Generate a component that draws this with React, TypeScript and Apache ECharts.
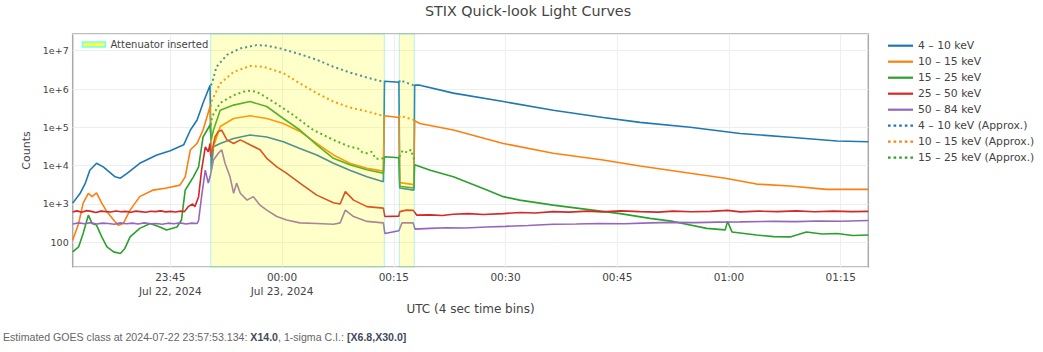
import React, { useEffect, useRef } from 'react';
import * as echarts from 'echarts';

// Time is expressed in minutes relative to 2024-07-23 00:00 UTC
const chartTitle = 'STIX Quick-look Light Curves';
const xAxisTitle = 'UTC (4 sec time bins)';
const yAxisTitle = 'Counts';
const X_MIN = -28.1;
const X_MAX = 78.7;
const Y_MIN = 22.6;
const Y_MAX = 2.73e7;

const xTickValues = [-15, 0, 15, 30, 45, 60, 75];
const xTickLabels = ['23:45\nJul 22, 2024', '00:00\nJul 23, 2024', '00:15', '00:30', '00:45', '01:00', '01:15'];
const yTickExponents = [2, 3, 4, 5, 6, 7];
const yTickLabels = ['100', '1e+3', '1e+4', '1e+5', '1e+6', '1e+7'];

const attenuatorLabel = 'Attenuator inserted';
const attenuatorPeriods = [
  [-9.57, 13.73],
  [15.75, 17.75],
];

const seriesNames = [
  '4 – 10 keV',
  '10 – 15 keV',
  '15 – 25 keV',
  '25 – 50 keV',
  '50 – 84 keV',
  '4 – 10 keV (Approx.)',
  '10 – 15 keV (Approx.)',
  '15 – 25 keV (Approx.)',
];
const seriesColors = ['#1f77b4', '#ff7f0e', '#2ca02c', '#d62728', '#9467bd', '#1f77b4', '#ff7f0e', '#2ca02c'];

const band4to10 = [
  [-28.1, 1.05e3], [-27.1, 1.9e3], [-26.4, 3.5e3], [-25.8, 7.6e3], [-24.9, 1.15e4], [-24.0, 9.3e3],
  [-22.4, 5.1e3], [-21.7, 4.7e3], [-20.8, 6.3e3], [-19.1, 1.15e4], [-16.8, 1.9e4], [-15.0, 2.45e4],
  [-13.2, 3.5e4], [-12.3, 8.5e4], [-11.4, 1.55e5], [-10.6, 4.3e5], [-9.66, 1.26e6], [-9.5, 7.6e3],
  [-9.2, 3.1e4], [-8.3, 3.8e4], [-6.5, 5.1e4], [-4.3, 6.3e4], [-2.05, 5.6e4], [0.17, 4.2e4],
  [2.4, 2.8e4], [4.66, 1.9e4], [6.9, 1.15e4], [9.1, 7.6e3], [11.4, 5.1e3], [13.6, 3.8e3],
  [13.75, 1.6e6], [15.7, 1.5e6], [15.8, 2.6e3], [17.7, 2.3e3], [17.8, 1.26e6], [18.5, 1.26e6],
  [23.0, 7.8e5], [29.7, 4.7e5], [36.4, 2.8e5], [43.1, 1.8e5], [48.05, 1.35e5], [54.8, 1.0e5],
  [61.5, 6.9e4], [68.2, 5.5e4], [74.5, 4.4e4], [78.7, 4.2e4],
];

const band10to15 = [
  [-28.1, 115], [-27.3, 310], [-26.7, 1.05e3], [-26.0, 1.9e3], [-25.5, 1.55e3], [-24.9, 1.95e3],
  [-24.2, 1.05e3], [-23.5, 630], [-22.6, 380], [-22.0, 280], [-21.3, 310], [-20.4, 690],
  [-19.1, 1.55e3], [-17.3, 2.3e3], [-15.5, 2.6e3], [-13.7, 3.1e3], [-13.0, 5.1e3], [-12.3, 2.6e4],
  [-11.4, 3.8e4], [-10.6, 8.5e4], [-9.66, 3.5e5], [-9.5, 2.1e4], [-8.3, 1.05e5], [-6.5, 1.7e5],
  [-4.3, 2.0e5], [-2.05, 1.7e5], [0.17, 1.26e5], [2.4, 7.8e4], [4.66, 3.8e4], [6.9, 1.9e4],
  [9.1, 1.15e4], [11.4, 8.5e3], [13.6, 7.2e3], [13.75, 2.0e5], [15.7, 1.8e5], [15.8, 3.6e3],
  [17.7, 3.2e3], [17.8, 1.5e5], [18.5, 1.26e5], [23.0, 8.5e4], [29.7, 3.8e4], [36.4, 2.1e4],
  [43.1, 1.4e4], [48.05, 9.8e3], [54.8, 6.3e3], [59.5, 4.7e3], [63.7, 3.3e3], [68.2, 2.95e3],
  [73.1, 2.4e3], [78.7, 2.4e3],
];

const band15to25 = [
  [-28.1, 56], [-27.3, 76], [-26.7, 170], [-26.0, 510], [-25.5, 310], [-24.9, 280], [-24.2, 138],
  [-23.5, 76], [-22.6, 56], [-21.7, 51], [-21.1, 69], [-20.4, 138], [-19.1, 230], [-17.7, 310],
  [-16.4, 250], [-15.5, 210], [-14.1, 250], [-13.5, 380], [-13.0, 2.3e3], [-12.3, 3.8e3],
  [-11.9, 5.1e3], [-11.2, 9.3e3], [-10.6, 5.6e4], [-9.66, 1.15e5], [-9.5, 4.7e4], [-9.2, 8.5e4],
  [-8.3, 2.8e5], [-6.5, 3.8e5], [-4.3, 4.7e5], [-2.05, 3.5e5], [0.17, 1.7e5], [2.4, 8.5e4],
  [4.66, 3.5e4], [6.9, 1.55e4], [9.1, 1.05e4], [11.4, 7.8e3], [13.6, 6.3e3], [13.75, 1.7e4],
  [15.7, 1.6e4], [15.8, 2.9e3], [17.7, 2.6e3], [17.8, 1.05e4], [19.9, 7.6e3], [23.0, 5.1e3],
  [27.5, 2.3e3], [29.7, 1.55e3], [31.9, 1.26e3], [36.4, 930], [40.9, 720], [45.4, 560],
  [49.4, 420], [52.5, 350], [57.0, 230], [59.5, 210], [59.8, 350], [60.4, 186], [63.7, 155],
  [66.0, 140], [68.2, 138], [70.4, 186], [72.5, 165], [74.5, 170], [76.6, 150], [78.7, 155],
];

const band25to50 = [
  [-28.1, 620], [-27.5, 660], [-26.9, 610], [-26.2, 670], [-25.6, 640], [-25.0, 600], [-24.3, 650],
  [-23.6, 630], [-23.0, 615], [-22.3, 655], [-21.6, 625], [-21.0, 640], [-20.3, 610], [-19.6, 650],
  [-19.0, 630], [-18.3, 605], [-17.6, 645], [-17.0, 630], [-16.3, 660], [-15.6, 620], [-15.0, 640],
  [-14.3, 615], [-13.6, 650], [-13.1, 630], [-12.6, 850], [-12.0, 1.0e3], [-11.7, 850],
  [-11.2, 1.55e3], [-10.8, 7.6e3], [-10.3, 3.1e4], [-9.9, 2.3e4], [-9.66, 3.8e4], [-9.57, 1.7e4],
  [-9.0, 5.6e4], [-8.55, 7.8e4], [-8.1, 8.5e4], [-7.4, 4.7e4], [-6.5, 3.8e4], [-5.6, 4.7e4],
  [-4.3, 3.5e4], [-2.95, 2.6e4], [-2.05, 1.55e4], [-0.7, 9.3e3], [0.63, 6.3e3], [2.4, 3.5e3],
  [4.66, 1.7e3], [6.9, 1.07e3], [7.8, 1.0e3], [8.5, 2.1e3], [9.6, 1.26e3], [11.4, 850],
  [13.6, 780], [13.8, 470], [15.7, 480], [15.8, 630], [16.7, 690], [17.6, 680], [18.1, 510],
  [19.9, 520], [21.5, 500], [23.0, 540], [25.0, 560], [27.0, 530], [29.7, 560], [32.0, 600],
  [34.0, 580], [36.4, 630], [38.5, 610], [41.0, 650], [43.0, 620], [45.5, 660], [48.0, 630],
  [50.5, 610], [52.5, 650], [55.0, 625], [57.5, 640], [59.8, 680], [61.5, 620], [64.0, 650],
  [66.5, 630], [69.0, 660], [71.5, 625], [74.0, 650], [76.5, 630], [78.7, 640],
];

const band50to84 = [
  [-28.1, 300], [-27.3, 320], [-26.5, 305], [-25.7, 325], [-24.9, 300], [-24.1, 315], [-23.3, 310],
  [-22.5, 295], [-21.7, 320], [-20.9, 305], [-20.1, 315], [-19.3, 300], [-18.5, 320], [-17.7, 305],
  [-16.9, 310], [-16.1, 295], [-15.3, 315], [-14.5, 305], [-13.7, 320], [-12.9, 300], [-12.1, 315],
  [-11.4, 310], [-11.2, 370], [-10.8, 1.55e3], [-10.3, 7.6e3], [-9.9, 3.5e3], [-9.66, 5.1e3],
  [-9.2, 1.4e4], [-8.55, 2.1e4], [-8.1, 2.6e4], [-7.65, 1.15e4], [-6.98, 5.1e3], [-6.5, 1.9e3],
  [-6.1, 3.5e3], [-5.6, 1.9e3], [-4.7, 1.26e3], [-3.85, 1.55e3], [-2.95, 930], [-2.05, 690],
  [-0.7, 470], [0.63, 380], [2.4, 320], [4.66, 310], [6.9, 295], [7.8, 320], [8.5, 690],
  [9.6, 470], [11.4, 350], [13.6, 320], [13.8, 170], [15.7, 200], [16.1, 320], [17.6, 320],
  [17.85, 220], [19.9, 230], [22.0, 240], [24.5, 235], [27.5, 250], [30.0, 260], [33.0, 275],
  [36.4, 295], [39.5, 300], [42.5, 310], [46.0, 305], [49.4, 320], [52.5, 330], [55.5, 325],
  [58.5, 335], [61.5, 340], [65.9, 350], [69.0, 345], [72.0, 360], [75.0, 355], [78.7, 370],
];

const band4to10Approx = [
  [-9.57, 1.26e6], [-9.4, 1.4e6], [-8.8, 3.8e6], [-7.4, 7.8e6], [-5.6, 1.15e7], [-3.4, 1.4e7],
  [-2.05, 1.35e7], [-0.27, 1.15e7], [2.4, 8.1e6], [4.66, 5.8e6], [6.9, 3.8e6], [9.1, 2.7e6],
  [11.4, 2.0e6], [13.6, 1.55e6], [13.73, 1.6e6], [14.7, null], [15.75, 1.5e6], [15.8, 1.7e6],
  [17.6, 1.26e6], [17.75, 1.26e6],
];

const band10to15Approx = [
  [-9.57, 3.5e5], [-9.4, 5.1e5], [-8.3, 1.4e6], [-6.5, 2.8e6], [-4.3, 4.0e6], [-2.5, 3.8e6],
  [0.17, 2.6e6], [2.4, 1.4e6], [4.66, 7.8e5], [6.9, 4.7e5], [9.1, 3.3e5], [11.4, 2.6e5],
  [13.6, 2.0e5], [13.73, 2.0e5], [14.7, null], [15.75, 1.8e5], [15.8, 2.0e5], [17.6, 1.6e5],
  [17.75, 1.5e5],
];

const band15to25Approx = [
  [-9.57, 1.15e5], [-9.4, 1.9e5], [-8.3, 4.3e5], [-6.5, 6.9e5], [-4.7, 9.1e5], [-3.4, 8.5e5],
  [-1.2, 4.7e5], [1.5, 2.1e5], [4.2, 8.5e4], [6.9, 4.7e4], [9.1, 3.1e4], [10.2, 2.8e4],
  [10.8, 2.2e4], [11.4, 2.1e4], [12.0, 2.3e4], [12.6, 1.5e4], [13.6, 1.55e4], [13.73, 1.7e4],
  [14.7, null], [15.75, 1.7e4], [16.2, 2.5e4], [16.8, 2.2e4], [17.3, 2.6e4], [17.75, 1.4e4],
];

const seriesData = [
  band4to10, band10to15, band15to25, band25to50, band50to84,
  band4to10Approx, band10to15Approx, band15to25Approx,
];

const goesPrefix = 'Estimated GOES class at 2024-07-22 23:57:53.134: ';
const goesClass = 'X14.0';
const goesMid = ', 1-sigma C.I.: ';
const goesInterval = '[X6.8,X30.0]';

const FONT = '"DejaVu Sans", Verdana, sans-serif';
const TEXT = '#444';

const SOLID_ICON = 'path://M0,0H25V2.2H0Z';
const DOT_ICON =
  'path://M0,0h2.6v2.2h-2.6z M5.6,0h2.6v2.2h-2.6z M11.2,0h2.6v2.2h-2.6z M16.8,0h2.6v2.2h-2.6z M22.4,0h2.6v2.2h-2.6z';

function xLabel(v: number) {
  const i = xTickValues.findIndex((t) => Math.abs(t - v) < 1e-6);
  return i >= 0 ? xTickLabels[i] : '';
}

function yLabel(v: number) {
  const e = Math.log10(v);
  const r = Math.round(e);
  if (Math.abs(e - r) > 1e-6) return '';
  const i = yTickExponents.indexOf(r);
  return i >= 0 ? yTickLabels[i] : '';
}

function buildOption(): any {
  const lineSeries = seriesNames.map((name, i) => {
    const approx = i >= 5;
    return {
      name,
      type: 'line',
      data: seriesData[i],
      symbol: 'none',
      showSymbol: false,
      connectNulls: false,
      z: 2,
      itemStyle: { color: seriesColors[i] },
      lineStyle: approx
        ? { color: seriesColors[i], width: 2, type: [2, 3] }
        : { color: seriesColors[i], width: 1.6 },
      emphasis: { disabled: true },
    };
  });

  const attenuatorSeries = {
    name: attenuatorLabel,
    type: 'custom',
    data: attenuatorPeriods,
    encode: { x: [0, 1] },
    z: 5,
    silent: true,
    itemStyle: { color: 'rgb(255,255,60)' },
    renderItem: (params: any, api: any) => {
      const cs = params.coordSys;
      const x0 = api.coord([api.value(0), 1000])[0];
      const x1 = api.coord([api.value(1), 1000])[0];
      return {
        type: 'rect',
        shape: { x: x0, y: cs.y, width: x1 - x0, height: cs.height },
        style: { fill: 'rgba(255,255,0,0.21)', stroke: 'rgba(0,220,220,0.3)', lineWidth: 1 },
      };
    },
  };

  return {
    animation: false,
    backgroundColor: '#fff',
    title: {
      text: chartTitle,
      left: 425,
      top: 4,
      padding: 0,
      textStyle: { fontFamily: FONT, fontSize: 14.3, fontWeight: 'normal', color: TEXT },
    },
    grid: {
      left: 72.7,
      right: 174.7,
      top: 34,
      bottom: 85,
      show: true,
      borderColor: '#aaa',
      borderWidth: 1.5,
      backgroundColor: 'transparent',
    },
    legend: [
      {
        data: seriesNames.map((name, i) => ({ name, icon: i >= 5 ? DOT_ICON : SOLID_ICON })),
        orient: 'vertical',
        left: 888,
        top: 38.7,
        itemWidth: 25,
        itemHeight: 2.2,
        itemGap: 2,
        selectedMode: false,
        padding: 0,
        textStyle: { fontFamily: FONT, fontSize: 10.8, color: TEXT, lineHeight: 14 },
      },
      {
        data: [
          {
            name: attenuatorLabel,
            icon: 'rect',
            itemStyle: { color: 'rgb(255,255,60)', borderColor: 'rgb(110,255,255)', borderWidth: 1.5 },
          },
        ],
        left: 81.7,
        top: 39.5,
        itemWidth: 23,
        itemHeight: 5,
        selectedMode: false,
        padding: 0,
        textStyle: { fontFamily: FONT, fontSize: 10, color: TEXT },
      },
    ],
    xAxis: {
      type: 'value',
      min: X_MIN,
      max: X_MAX,
      name: xAxisTitle,
      nameLocation: 'middle',
      nameGap: 33,
      nameTextStyle: { fontFamily: FONT, fontSize: 12, color: TEXT },
      axisLine: { show: false },
      axisTick: { show: false, customValues: xTickValues },
      axisLabel: {
        customValues: xTickValues,
        formatter: (v: number) => xLabel(v),
        fontFamily: FONT,
        fontSize: 10.5,
        lineHeight: 14,
        color: TEXT,
        margin: 3,
      },
      splitLine: { show: true, lineStyle: { color: '#eee', width: 1 } },
    },
    yAxis: {
      type: 'log',
      logBase: 10,
      min: Y_MIN,
      max: Y_MAX,
      name: yAxisTitle,
      nameLocation: 'middle',
      nameRotate: 90,
      nameGap: 34,
      nameTextStyle: { fontFamily: FONT, fontSize: 11, color: TEXT },
      axisLine: { show: false },
      axisTick: { show: false },
      axisLabel: {
        formatter: (v: number) => yLabel(v),
        fontFamily: FONT,
        fontSize: 9.5,
        color: TEXT,
        margin: 4,
      },
      splitLine: { show: true, lineStyle: { color: '#eee', width: 1 } },
    },
    graphic: [
      {
        type: 'text',
        left: 3,
        top: 331,
        style: {
          text: `{n|${goesPrefix}}{b|${goesClass}}{n|${goesMid}}{b|${goesInterval}}`,
          rich: {
            n: { fontFamily: '"Liberation Sans", Arial, sans-serif', fontSize: 10.6, fill: '#666' },
            b: { fontFamily: '"Liberation Sans", Arial, sans-serif', fontSize: 10.6, fontWeight: 'bold', fill: '#3f4a5a' },
          },
        },
      },
    ],
    series: [...lineSeries, attenuatorSeries],
  };
}

export default function App() {
  const ref = useRef<HTMLDivElement>(null);
  useEffect(() => {
    if (!ref.current) return;
    const chart = echarts.init(ref.current, null, { renderer: 'svg' });
    chart.setOption(buildOption());
    return () => chart.dispose();
  }, []);
  return (
    <div
      ref={ref}
      style={{ position: 'fixed', left: 0, top: 0, width: 1043, height: 352, background: '#fff' }}
    />
  );
}
